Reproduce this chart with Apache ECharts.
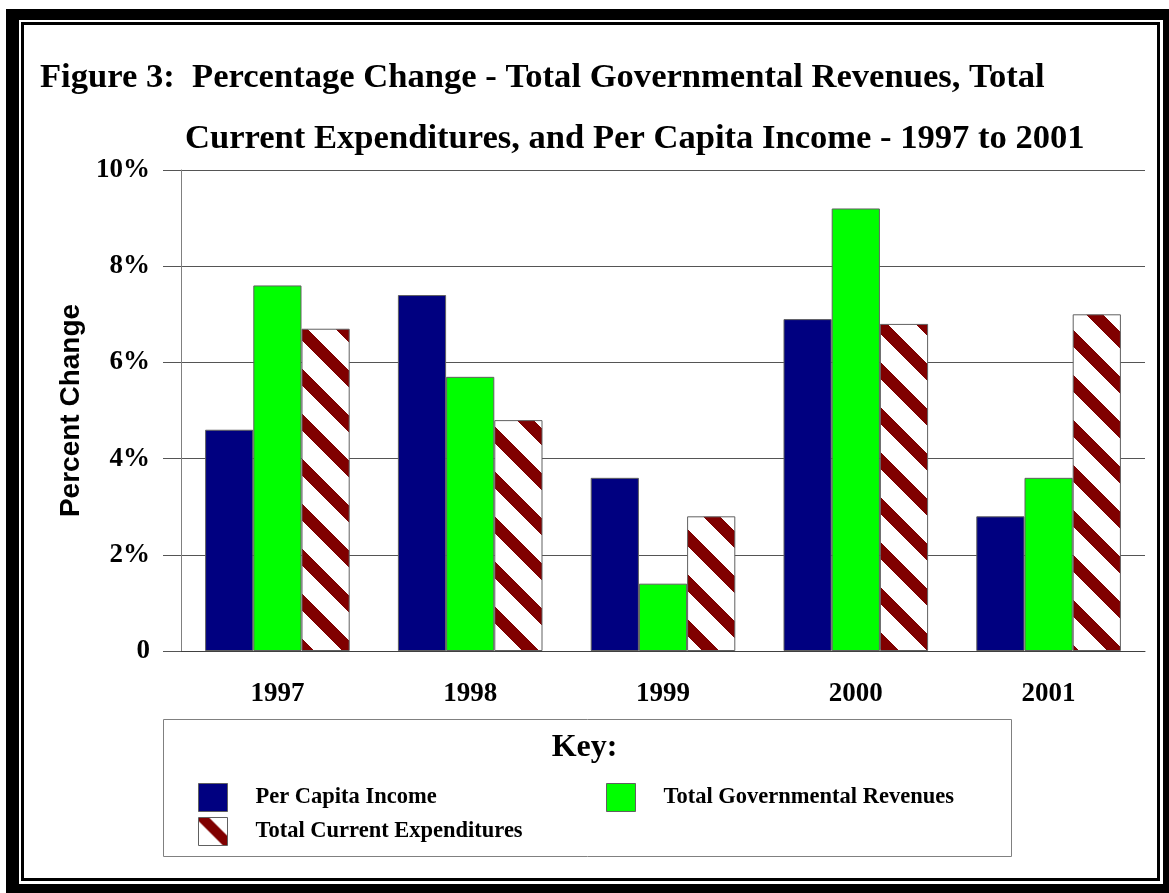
<!DOCTYPE html>
<html>
<head>
<meta charset="utf-8">
<title>Figure 3</title>
<script src="https://cdn.jsdelivr.net/npm/echarts@6/dist/echarts.min.js"></script>
<style>
  html, body { margin: 0; padding: 0; background: #fff; }
  #chart { width: 1169px; height: 893px; }
</style>
</head>
<body>
<div id="chart"></div>
<script>
// data
var years = ['1997', '1998', '1999', '2000', '2001'];
var perCapitaIncome = [4.6, 7.4, 3.6, 6.9, 2.8];
var govRevenues = [7.6, 5.7, 1.4, 9.2, 3.6];
var currentExpenditures = [6.7, 4.8, 2.8, 6.8, 7.0];
var yTicks = [0, 2, 4, 6, 8, 10];

var serif = "'Liberation Serif', 'Times New Roman', serif";
var sans = "'Liberation Sans', Arial, sans-serif";

// diagonal "\" stripes, dark red on white
function hatchTile() {
  var size = 45;
  var c = document.createElement('canvas');
  c.width = size; c.height = size;
  var ctx = c.getContext('2d');
  var img = ctx.createImageData(size, size);
  for (var y = 0; y < size; y++) {
    for (var x = 0; x < size; x++) {
      var d = ((y - x) % size + size) % size;
      var i = (y * size + x) * 4;
      if (d >= 22 && d < 39) {
        img.data[i] = 128; img.data[i + 1] = 0; img.data[i + 2] = 0;
      } else {
        img.data[i] = 255; img.data[i + 1] = 255; img.data[i + 2] = 255;
      }
      img.data[i + 3] = 255;
    }
  }
  ctx.putImageData(img, 0, 0);
  return c;
}

// single stripe for the key swatch
function hatchIcon() {
  var w = 29, h = 28;
  var c = document.createElement('canvas');
  c.width = w; c.height = h;
  var ctx = c.getContext('2d');
  var img = ctx.createImageData(w, h);
  for (var y = 0; y < h; y++) {
    for (var x = 0; x < w; x++) {
      var d = x - y * w / h;
      var i = (y * w + x) * 4;
      if (d >= -4 && d <= 10) {
        img.data[i] = 128; img.data[i + 1] = 0; img.data[i + 2] = 0;
      } else {
        img.data[i] = 255; img.data[i + 1] = 255; img.data[i + 2] = 255;
      }
      img.data[i + 3] = 255;
    }
  }
  ctx.putImageData(img, 0, 0);
  return c;
}

var hatch = { image: hatchTile(), repeat: 'repeat' };
var hatchKey = { image: hatchIcon(), repeat: 'no-repeat' };

var legendCommon = {
  padding: 0,
  itemWidth: 29,
  itemHeight: 28,
  icon: 'rect',
  selectedMode: false,
  itemStyle: { borderColor: '#606060', borderWidth: 1 },
  textStyle: {
    fontFamily: serif, fontWeight: 'bold', fontSize: 22.5, color: '#000',
    padding: [0, 0, 0, 23]
  }
};

var myChart = echarts.init(document.getElementById('chart'));
myChart.setOption({
  animation: false,
  backgroundColor: '#fff',
  graphic: [
    { type: 'rect', z: -10, shape: { x: 6, y: 9, width: 1200, height: 900 }, style: { fill: '#000' } },
    { type: 'rect', z: -9, shape: { x: 19, y: 20, width: 1144, height: 864 }, style: { fill: '#fff' } },
    { type: 'rect', z: -8, shape: { x: 21, y: 22, width: 1139, height: 859 }, style: { fill: '#000' } },
    { type: 'rect', z: -7, shape: { x: 24, y: 25, width: 1133, height: 853 }, style: { fill: '#fff' } },
    { type: 'rect', z: -6, shape: { x: 163.5, y: 719.5, width: 848, height: 137 },
      style: { fill: 'none', stroke: '#808080', lineWidth: 1 } }
  ],
  title: [
    {
      text: 'Figure 3:  Percentage Change - Total Governmental Revenues, Total',
      left: 40, top: 61, padding: 0,
      textStyle: { fontFamily: serif, fontWeight: 'bold', fontSize: 34.6, color: '#000' }
    },
    {
      text: 'Current Expenditures, and Per Capita Income - 1997 to 2001',
      left: 185, top: 122, padding: 0,
      textStyle: { fontFamily: serif, fontWeight: 'bold', fontSize: 34.6, color: '#000' }
    },
    {
      text: 'Key:',
      left: 'center', top: 732, padding: 0,
      textStyle: { fontFamily: serif, fontWeight: 'bold', fontSize: 32, color: '#000' }
    }
  ],
  legend: [
    Object.assign({}, legendCommon, { left: 198, top: 783, data: ['Per Capita Income'] }),
    Object.assign({}, legendCommon, { left: 606, top: 783, data: ['Total Governmental Revenues'] }),
    Object.assign({}, legendCommon, { left: 198, top: 817,
      data: [{ name: 'Total Current Expenditures', itemStyle: { color: hatchKey } }] })
  ],
  grid: { left: 181, right: 24, top: 170, bottom: 242 },
  xAxis: {
    type: 'category',
    data: years,
    axisLine: { lineStyle: { color: '#404040', width: 1 } },
    axisTick: { alignWithLabel: true, length: 17, lineStyle: { color: '#808080' } },
    axisLabel: { margin: 30, fontFamily: serif, fontWeight: 'bold', fontSize: 27, color: '#000' }
  },
  yAxis: {
    type: 'value',
    min: yTicks[0],
    max: yTicks[yTicks.length - 1],
    interval: 2,
    name: 'Percent Change',
    nameLocation: 'middle',
    nameGap: 90,
    nameTextStyle: { fontFamily: sans, fontWeight: 'bold', fontSize: 28, color: '#000' },
    axisLine: { show: true, lineStyle: { color: '#808080' } },
    axisTick: { show: true, length: 18, lineStyle: { color: '#555' } },
    splitLine: { lineStyle: { color: '#555', width: 1 } },
    axisLabel: {
      margin: 31, fontFamily: serif, fontWeight: 'bold', fontSize: 27, color: '#000',
      formatter: function (v) { return v === 0 ? '0' : v + '%'; }
    }
  },
  series: [
    {
      name: 'Per Capita Income', type: 'bar', data: perCapitaIncome,
      barGap: 0, barCategoryGap: '25%',
      itemStyle: { color: '#000080', borderColor: '#606060', borderWidth: 1 }
    },
    {
      name: 'Total Governmental Revenues', type: 'bar', data: govRevenues,
      itemStyle: { color: '#00ff00', borderColor: '#606060', borderWidth: 1 }
    },
    {
      name: 'Total Current Expenditures', type: 'bar', data: currentExpenditures,
      itemStyle: { color: hatch, borderColor: '#606060', borderWidth: 1 }
    }
  ]
});
</script>
</body>
</html>
